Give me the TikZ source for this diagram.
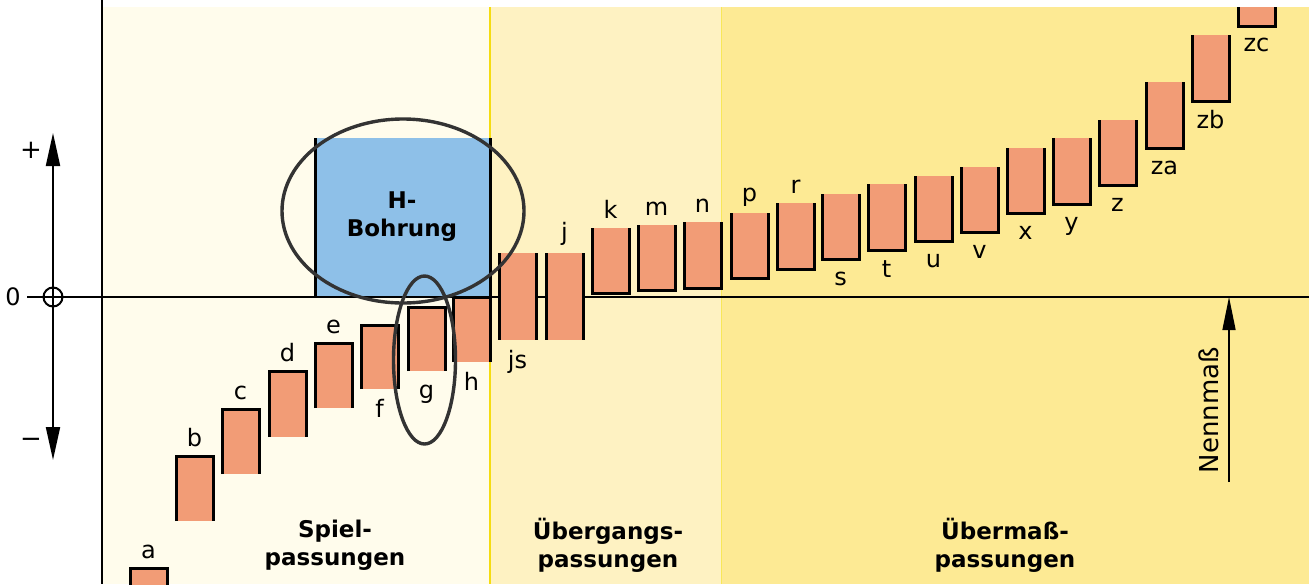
\documentclass[tikz,border=0pt]{standalone}
\usepackage{fontspec}
\setmainfont{DejaVu Sans}
\usetikzlibrary{arrows.meta}
\definecolor{spielbg}{HTML}{FFFCEC}
\definecolor{uebergbg}{HTML}{FEF2C2}
\definecolor{uebermbg}{HTML}{FDEA94}
\definecolor{lachs}{HTML}{F29C76}
\definecolor{bohrblau}{HTML}{8EC0E8}
\definecolor{kreisgrau}{HTML}{333333}
\definecolor{grenzgelb}{HTML}{F5DC10}
\tikzset{%
  rand/.style       = {line width=1.5pt},%
  buchst/.style     = {font=\fontsize{12}{14}\selectfont, anchor=base, inner sep=0pt},%
  bereich/.style    = {font=\fontsize{11.5}{14}\selectfont\bfseries, align=center},%
  markierung/.style = {draw=kreisgrau, line width=1.7pt},%
  spitze/.tip       = {Triangle[length=16.5pt,width=7pt]},%
  achse/.style      = {line width=1pt, spitze-spitze}%
}

\begin{document}
\begin{tikzpicture}[x=0.5pt, y=-0.5pt]%
	\useasboundingbox (0,0) rectangle (1309,584);
	% Bereiche
	\fill[spielbg]  (103,7) rectangle (490,584);
	\fill[uebergbg] (490,7) rectangle (721,584);
	\fill[uebermbg] (721,7) rectangle (1309,584);
	\draw[grenzgelb, line width=0.6pt] (490,7) -- (490,584);
	\draw[grenzgelb!70, line width=0.5pt] (721,7) -- (721,584);
	% H-Bohrung
	\fill[bohrblau] (315,138) rectangle (490,297);
	\coordinate (nullL) at (27,297);
	\coordinate (nullR) at (1309,297);
	\draw[line width=1pt] (nullL) -- (nullR);
	\draw[rand] (315,138) -- (315,297);
	\draw[rand] (490,138) -- (490,362);
	\node[bereich] (bohrung) at (402,217) {H-\\Bohrung};
	% Wellen unter der Nulllinie
	\foreach \x/\o/\u/\n/\ly in {130/568/640/a/558, 176/456/521/b/446,%
		222/409/474/c/399, 269/371/437/d/361, 315/343/408/e/333,%
		361/325/389/f/417, 408/307/371/g/398, 453/297/362/h/390}{%
		\fill[lachs] (\x,\o) rectangle (\x+37,\u);
		\draw[rand] (\x,\u) -- (\x,\o) -- (\x+37,\o) -- (\x+37,\u);
		\node[buchst] (b-\n) at (\x+18.5,\ly) {\n};
	}
	% js und j
	\foreach \x/\n/\ly in {499/js/368, 546/j/240}{%
		\fill[lachs] (\x,253) rectangle (\x+37,340);
		\draw[rand] (\x,253) -- (\x,340);
		\draw[rand] (\x+37,253) -- (\x+37,340);
		\node[buchst] (b-\n) at (\x+18.5,\ly) {\n};
	}
	% Wellen ueber der Nulllinie
	\foreach \x/\o/\u/\n/\ly in {592/228/293/k/218, 638/225/290/m/215,%
		684/222/288/n/212, 731/213/278/p/201, 777/203/269/r/193,%
		822/194/259/s/285, 868/184/250/t/277, 915/176/241/u/267,%
		961/167/232/v/258, 1007/148/213/x/239, 1053/138/204/y/230,%
		1099/120/185/z/211, 1146/82/148/za/174, 1192/35/101/zb/128,%
		1238/7/26/zc/51}{%
		\fill[lachs] (\x,\o) rectangle (\x+37,\u);
		\draw[rand] (\x,\o) -- (\x,\u) -- (\x+37,\u) -- (\x+37,\o);
		\node[buchst] (b-\n) at (\x+18.5,\ly) {\n};
	}
	% Achse
	\draw[line width=1pt] (102,0) -- (102,584);
	\coordinate (axtop) at (53,133);
	\coordinate (axbot) at (53,460);
	\draw[achse] (axbot) -- (axtop);
	\node[circle, draw, line width=1pt, inner sep=0pt, minimum size=9.5pt] (null) at (53,297) {};
	\node[font=\fontsize{12}{14}\selectfont] (lab-null) at (13,297) {0};
	\node[font=\fontsize{13}{15}\selectfont] (lab-plus) at (31,150) {+};
	\node[font=\fontsize{13}{15}\selectfont] (lab-minus) at (31,443) {−};
	% Bereichsnamen
	\node[bereich] (spiel) at (335,545) {Spiel-\\passungen};
	\node[bereich] (uebergang) at (608,545) {Übergangs-\\passungen};
	\node[bereich] (uebermass) at (1005,545) {Übermaß-\\passungen};
	% Nennmass
	\coordinate (nennfuss) at (1229,482);
	\coordinate (nennspitze) at (1229,297);
	\draw[line width=0.75pt, -{Triangle[length=16.5pt,width=6.5pt]}] (nennfuss) -- (nennspitze);
	\node[font=\fontsize{13}{15}\selectfont, rotate=90] (nennmass) at (1209,410) {Nennmaß};
	% Markierungen
	\draw[markierung] (403,211) ellipse [x radius=121, y radius=92];
	\draw[markierung] (424.5,360) ellipse [x radius=31, y radius=84];
\end{tikzpicture}
\end{document}
